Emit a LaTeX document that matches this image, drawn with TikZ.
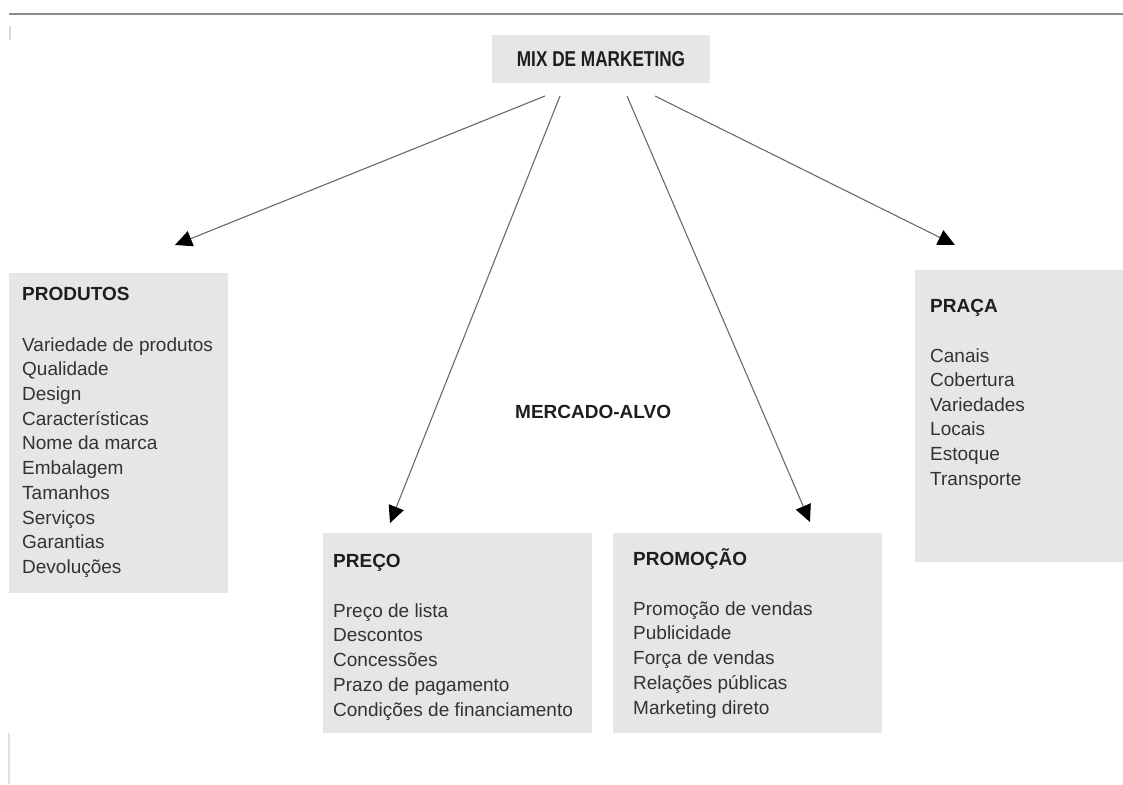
\documentclass[tikz,border=0pt]{standalone}
\usepackage{fontspec}
\setmainfont{Liberation Sans}
\usetikzlibrary{arrows.meta}
\definecolor{boxgray}{HTML}{E6E6E6}
\definecolor{headtxt}{HTML}{1E1E1E}
\definecolor{itemtxt}{HTML}{333333}
\definecolor{linegray}{HTML}{6A6A6A}
\begin{document}
\begin{tikzpicture}[x=1pt,y=-1pt,
  panel/.style={fill=boxgray, draw=none, inner sep=0pt, anchor=north west},
  head/.style={font=\fontsize{19}{22}\selectfont\bfseries, text=headtxt, anchor=west, inner sep=0pt, text height=13.8pt, text depth=3.6pt},
  item/.style={font=\fontsize{19}{22}\selectfont, text=itemtxt, anchor=west, inner sep=0pt, text height=13.8pt, text depth=3.6pt},
  arr/.style={draw=linegray, line width=1.1pt, -{Triangle[length=17pt,width=16pt,color=black]}}]
\useasboundingbox (0,0) rectangle (1123,784);
% frame marks
\draw[black!45, line width=2pt] (9,14) -- (1123,14);
\draw[black!15, line width=1.5pt] (10,26) -- (10,40);
\draw[black!12, line width=1.5pt] (9,733) -- (9,784);
% top box
\node[fill=boxgray, minimum width=218pt, minimum height=48pt, inner sep=0pt] (mix) at (601,59)
  {\scalebox{0.8}[1]{\fontsize{21.5}{24}\selectfont\bfseries\color{headtxt}MIX DE MARKETING}};
% panels
\node[panel, minimum width=219pt, minimum height=320pt] (prod) at (9,273) {};
\node[panel, minimum width=269pt, minimum height=200pt] (preco) at (323,533) {};
\node[panel, minimum width=269pt, minimum height=200pt] (promo) at (613,533) {};
\node[panel, minimum width=208pt, minimum height=292pt] (praca) at (915,270) {};
% centre label
\node[head] (alvo) at (515,413) {MERCADO-ALVO};
% headings
\node[head] (hprod) at (22,295) {PRODUTOS};
\node[head] (hpreco) at (333,562) {PREÇO};
\node[head] (hpromo) at (633,560) {PROMOÇÃO};
\node[head] (hpraca) at (930,307) {PRAÇA};
% items
\foreach \t [count=\i from 0] in {Variedade de produtos,Qualidade,Design,Características,Nome da marca,Embalagem,Tamanhos,Serviços,Garantias,Devoluções}
  \node[item] (prod\i) at (22,{346+24.7*\i}) {\t};
\foreach \t [count=\i from 0] in {Preço de lista,Descontos,Concessões,Prazo de pagamento,Condições de financiamento}
  \node[item] (preco\i) at (333,{612+24.8*\i}) {\t};
\foreach \t [count=\i from 0] in {Promoção de vendas,Publicidade,Força de vendas,Relações públicas,Marketing direto}
  \node[item] (promo\i) at (633,{610+24.8*\i}) {\t};
\foreach \t [count=\i from 0] in {Canais,Cobertura,Variedades,Locais,Estoque,Transporte}
  \node[item] (praca\i) at (930,{357+24.6*\i}) {\t};
% connector ends
\coordinate (s1) at (545,96);
\coordinate (s2) at (560,96);
\coordinate (s3) at (627,96);
\coordinate (s4) at (655,96);
\coordinate (t1) at (175,245);
\coordinate (t2) at (390,523);
\coordinate (t3) at (810,522);
\coordinate (t4) at (955,245);
\draw[arr] (s1) -- (t1);
\draw[arr] (s2) -- (t2);
\draw[arr] (s3) -- (t3);
\draw[arr] (s4) -- (t4);
\end{tikzpicture}
\end{document}
